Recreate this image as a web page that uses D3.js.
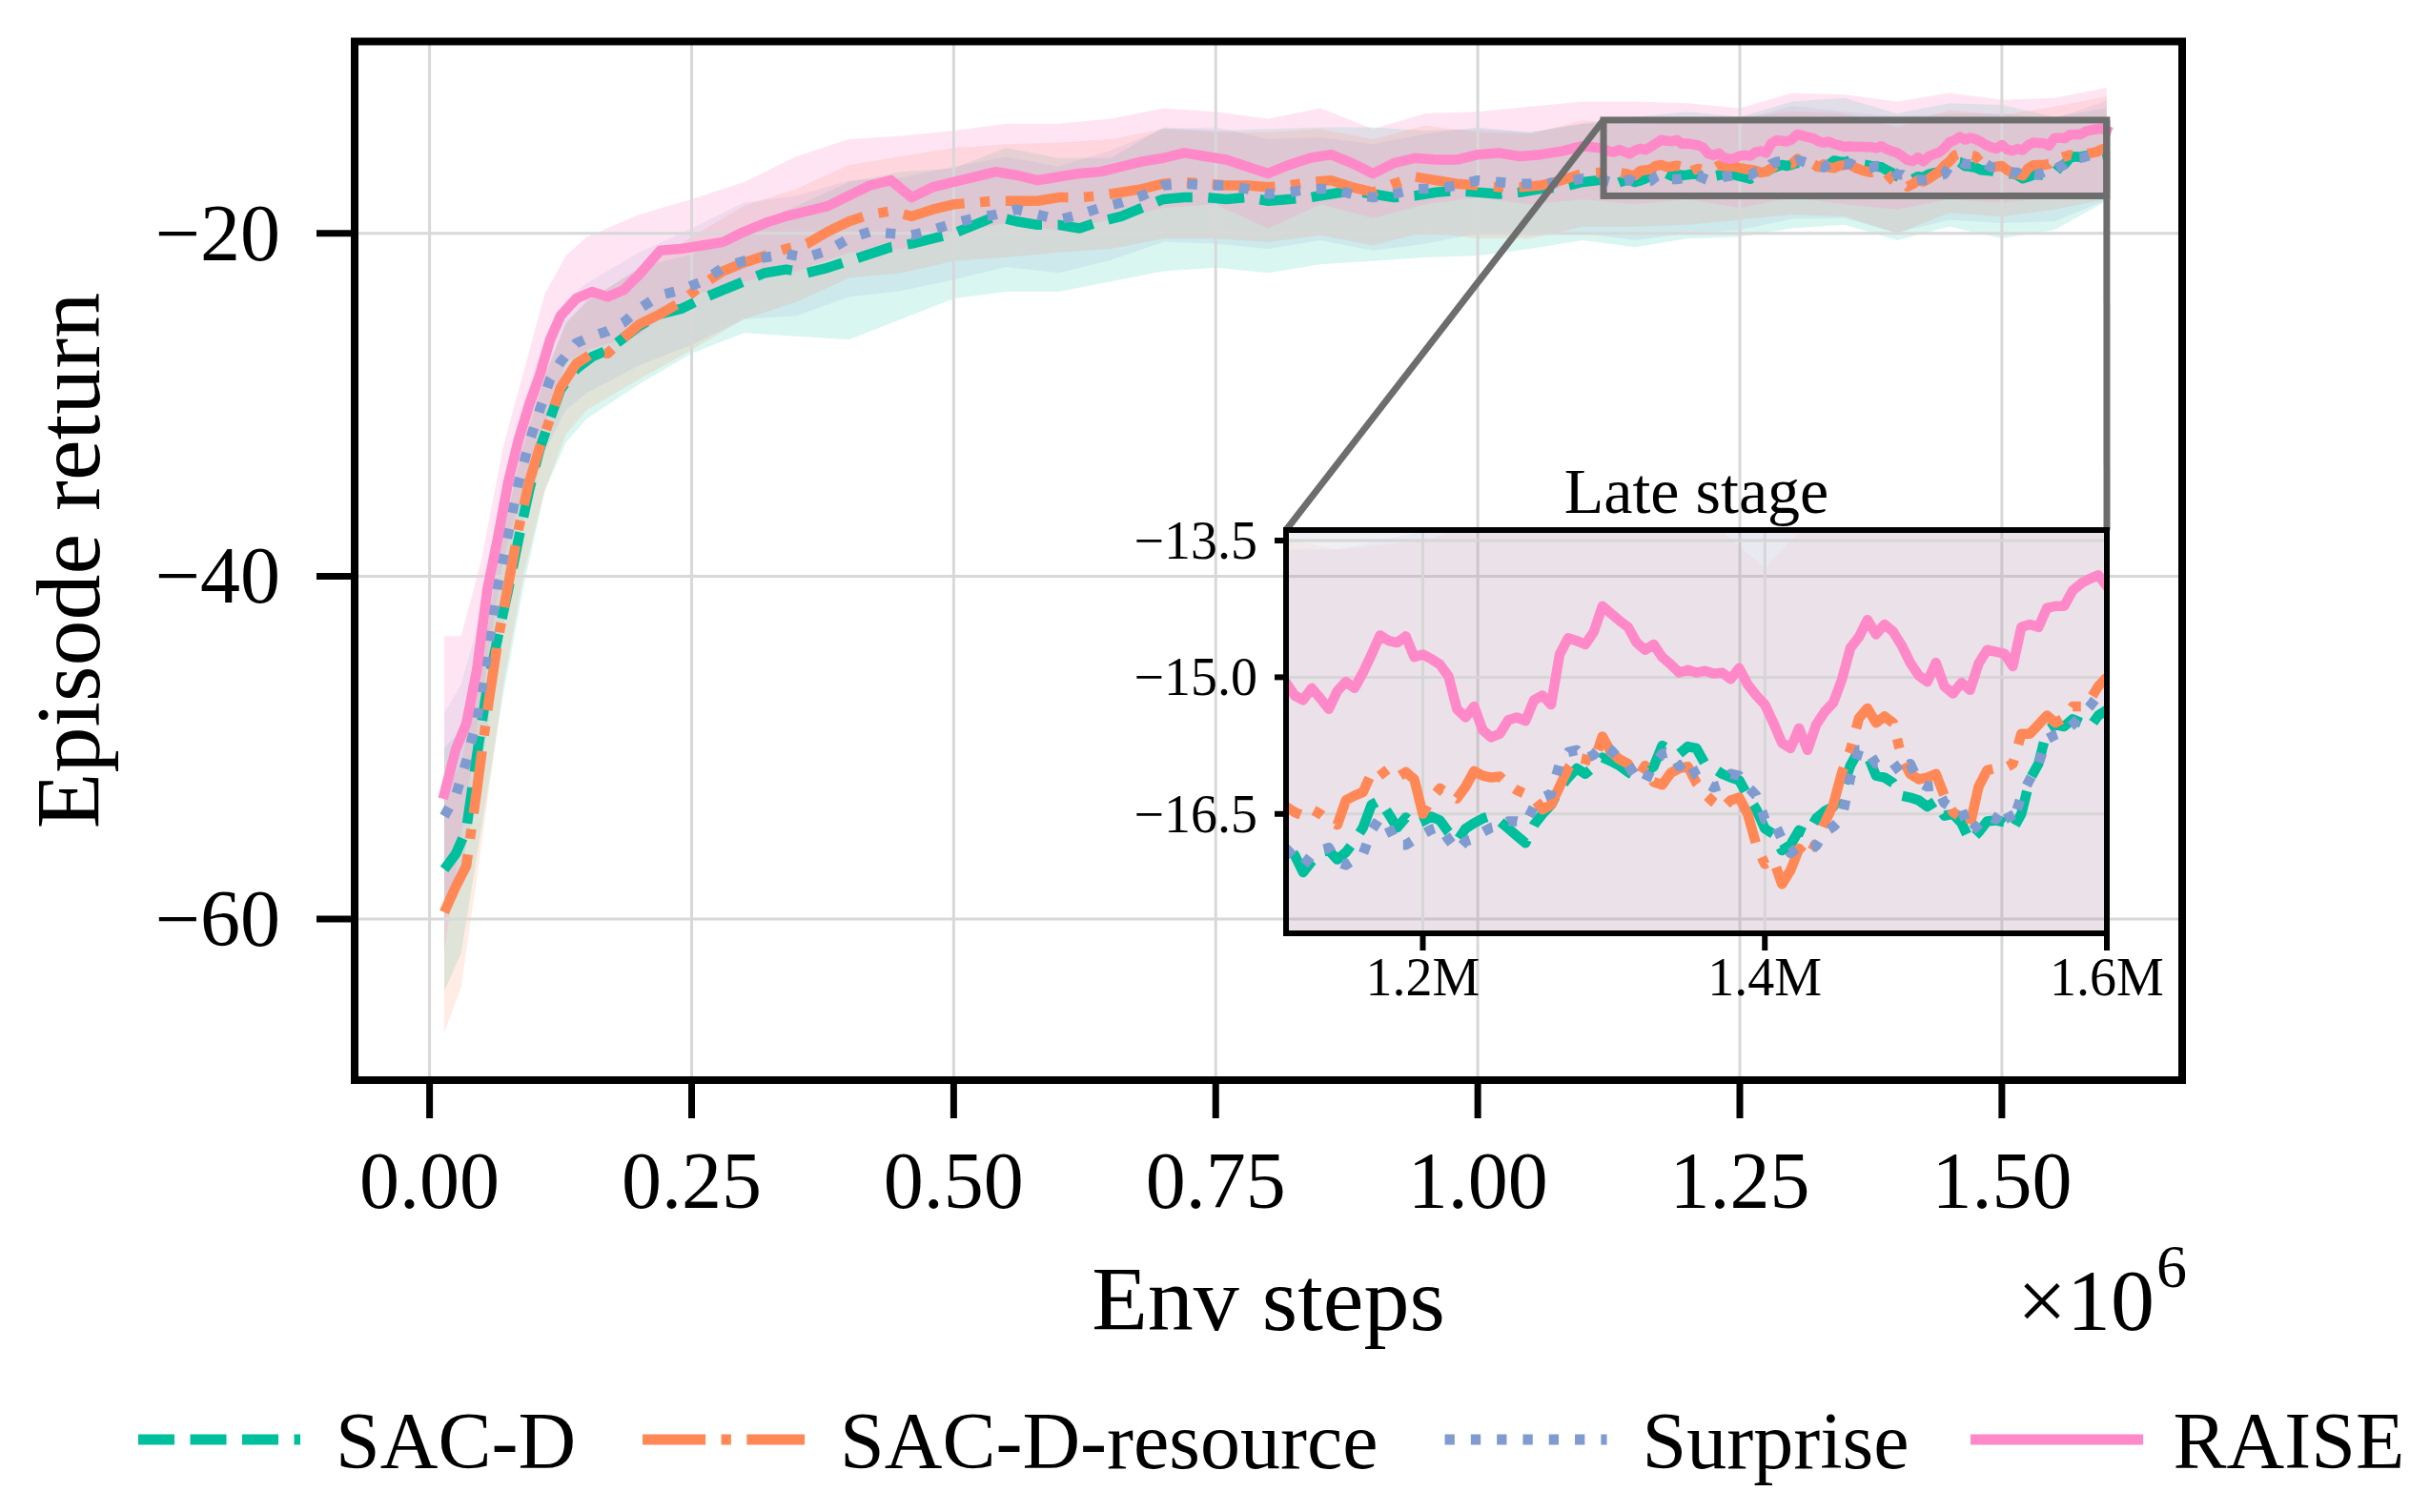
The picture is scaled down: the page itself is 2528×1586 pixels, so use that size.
<!DOCTYPE html>
<html><head><meta charset="utf-8">
<script src="https://cdn.jsdelivr.net/npm/d3@7"></script>
<style>body{margin:0;background:#fff}svg{display:block}</style>
</head><body><svg id="chart" width="2528" height="1586"></svg>
<script>
// ---------- DATA (x in millions of env steps) ----------
const steps = [0.014,0.025,0.035,0.045,0.055,0.065,0.075,0.085,0.095,0.105,0.115,0.125,0.14,0.155,0.17,0.185,0.2,
0.22,0.24,0.26,0.28,0.30,0.32,0.34,0.36,0.38,0.40,0.42,0.44,0.46,0.48,0.50,0.52,0.54,0.56,0.58,0.60,0.62,0.64,0.66,0.68,0.70,0.72,0.74,0.76,0.78,0.80,0.82,0.84,0.86,0.88,0.90,0.92,0.94,0.96,0.98,1.00,1.02,1.04,1.06,1.08,1.10,
1.115,1.12,1.125,1.13,1.135,1.14,1.145,1.15,1.155,1.16,
1.165,1.17,1.175,1.18,1.185,1.19,1.195,1.2,1.205,1.21,
1.215,1.22,1.225,1.23,1.235,1.24,1.245,1.25,1.255,1.26,
1.265,1.27,1.275,1.28,1.285,1.29,1.295,1.3,1.305,1.31,
1.315,1.32,1.325,1.33,1.335,1.34,1.345,1.35,1.355,1.36,
1.365,1.37,1.375,1.38,1.385,1.39,1.395,1.4,1.405,1.41,
1.415,1.42,1.425,1.43,1.435,1.44,1.445,1.45,1.455,1.46,
1.465,1.47,1.475,1.48,1.485,1.49,1.495,1.5,1.505,1.51,
1.515,1.52,1.525,1.53,1.535,1.54,1.545,1.55,1.555,1.56,
1.565,1.57,1.575,1.58,1.585,1.59,1.595,1.6];

const sacD = [-57.1,-56.2,-54.8,-50.5,-46.5,-43.6,-40.8,-37.8,-35.0,-32.6,-30.8,-29.1,-27.9,-27.2,-26.8,-26.1,-25.4,
-24.7,-24.4,-23.8,-23.3,-22.8,-22.3,-22.1,-22.3,-22.0,-21.6,-21.2,-20.8,-20.6,-20.3,-20.0,-19.5,-19.0,-19.3,-19.5,-19.5,-19.7,-19.3,-19.0,-18.5,-18.0,-17.9,-17.9,-18.0,-17.9,-18.1,-18.0,-17.9,-17.7,-17.5,-17.7,-17.9,-17.8,-17.6,-17.5,-17.6,-17.7,-17.6,-17.4,-17.3,-17.0,
-16.9,-16.85,-16.95,-17.14,-17.02,-16.92,-16.9,-17.0,-16.92,-16.8,
-16.65,-16.4,-16.35,-16.5,-16.65,-16.54,-16.62,-16.58,-16.53,-16.57,
-16.7,-16.8,-16.66,-16.6,-16.55,-16.52,-16.58,-16.66,-16.74,-16.82,
-16.62,-16.5,-16.4,-16.22,-16.1,-16.0,-16.06,-15.98,-15.88,-15.92,
-15.97,-16.04,-16.1,-16.04,-15.98,-15.75,-15.8,-15.84,-15.76,-15.78,
-15.95,-16.0,-16.06,-16.1,-16.13,-16.3,-16.45,-16.66,-16.72,-16.9,
-16.84,-16.68,-16.72,-16.55,-16.47,-16.42,-16.25,-15.97,-15.8,-15.85,
-16.08,-16.1,-16.16,-16.3,-16.32,-16.35,-16.42,-16.36,-16.52,-16.5,
-16.6,-16.8,-16.7,-16.58,-16.57,-16.59,-16.67,-16.5,-16.12,-15.95,
-15.58,-15.52,-15.54,-15.46,-15.5,-15.55,-15.42,-15.36];

const sacDResource = [-59.6,-58.1,-56.9,-52.5,-47.9,-43.8,-40.5,-37.2,-34.5,-32.5,-30.8,-29.0,-27.6,-27.0,-27.0,-26.1,-25.3,
-24.7,-24.0,-23.0,-22.2,-21.7,-21.3,-20.9,-20.6,-19.9,-19.3,-18.9,-18.7,-19.0,-18.6,-18.3,-18.2,-18.1,-18.1,-18.1,-17.9,-17.9,-17.8,-17.6,-17.4,-17.1,-17.0,-17.1,-17.2,-17.2,-17.3,-17.2,-17.0,-16.9,-17.3,-17.6,-17.1,-16.7,-16.9,-17.1,-17.2,-17.3,-17.3,-17.2,-16.9,-16.5,
-16.45,-16.42,-16.48,-16.52,-16.45,-16.5,-16.58,-16.62,-16.35,-16.3,
-16.26,-16.05,-16.0,-16.12,-16.1,-16.04,-16.12,-16.5,-16.33,-16.22,
-16.28,-16.33,-16.2,-16.03,-16.08,-16.1,-16.09,-16.18,-16.24,-16.28,
-16.33,-16.45,-16.4,-16.2,-16.0,-15.88,-15.9,-15.93,-15.65,-15.82,
-15.9,-15.95,-16.12,-15.97,-16.15,-16.18,-16.05,-16.0,-15.98,-16.16,
-16.28,-16.37,-16.44,-16.35,-16.32,-16.5,-16.84,-17.05,-17.0,-17.27,
-17.12,-16.88,-16.98,-16.82,-16.6,-16.4,-16.05,-15.8,-15.45,-15.34,
-15.5,-15.43,-15.5,-15.88,-16.06,-16.12,-16.1,-16.06,-16.3,-16.48,
-16.54,-16.62,-16.2,-16.02,-16.0,-16.0,-15.95,-15.62,-15.62,-15.52,
-15.42,-15.5,-15.45,-15.32,-15.32,-15.25,-15.1,-15.0];

const surprise = [-54.0,-52.8,-50.8,-48.4,-44.5,-40.5,-37.5,-34.5,-32.2,-30.3,-28.5,-27.5,-26.4,-26.0,-25.7,-25.2,-24.4,
-23.6,-23.3,-22.8,-22.0,-21.6,-21.4,-21.2,-21.4,-21.0,-20.3,-19.9,-20.0,-20.1,-19.8,-19.4,-19.1,-18.9,-18.6,-18.9,-19.2,-18.9,-18.5,-18.2,-17.8,-17.2,-17.1,-17.2,-17.2,-17.4,-17.7,-17.6,-17.4,-17.4,-17.7,-17.9,-17.7,-17.4,-17.4,-17.2,-16.9,-17.0,-17.1,-17.1,-17.0,-16.8,
-16.9,-16.88,-16.98,-17.07,-16.95,-16.9,-16.87,-17.03,-17.06,-17.0,
-16.94,-16.68,-16.54,-16.64,-16.84,-16.84,-16.78,-16.72,-16.67,-16.64,
-16.78,-16.9,-16.8,-16.77,-16.7,-16.65,-16.63,-16.58,-16.58,-16.6,
-16.42,-16.32,-16.28,-15.95,-15.82,-15.8,-15.9,-15.85,-15.74,-15.8,
-15.9,-15.96,-16.1,-16.15,-15.95,-15.84,-15.82,-15.98,-15.9,-16.08,
-16.16,-16.21,-16.18,-16.06,-16.08,-16.2,-16.3,-16.56,-16.57,-16.78,
-16.93,-16.86,-16.88,-16.85,-16.7,-16.64,-16.55,-16.1,-15.8,-15.8,
-15.95,-15.96,-15.94,-16.06,-15.95,-16.15,-16.2,-16.19,-16.38,-16.44,
-16.45,-16.7,-16.62,-16.52,-16.56,-16.42,-16.6,-16.3,-16.12,-15.95,
-15.68,-15.63,-15.6,-15.52,-15.42,-15.32,-15.2,-15.15];

const raise = [-52.7,-50.1,-48.6,-45.5,-40.8,-37.8,-34.5,-32.0,-30.0,-28.3,-26.2,-24.8,-23.8,-23.4,-23.7,-23.3,-22.4,
-21.0,-20.9,-20.7,-20.5,-19.9,-19.4,-19.0,-18.7,-18.4,-17.8,-17.2,-16.9,-17.9,-17.3,-17.0,-16.7,-16.4,-16.6,-16.9,-16.7,-16.5,-16.4,-16.1,-15.8,-15.6,-15.3,-15.5,-15.7,-16.1,-16.5,-16.0,-15.6,-15.4,-15.9,-16.5,-15.9,-15.6,-15.7,-15.7,-15.4,-15.3,-15.5,-15.4,-15.2,-14.9,
-15.0,-15.06,-15.2,-15.25,-15.12,-15.23,-15.35,-15.15,-15.05,-15.12,
-14.95,-14.75,-14.54,-14.6,-14.62,-14.55,-14.78,-14.75,-14.8,-14.86,
-14.99,-15.35,-15.44,-15.32,-15.58,-15.66,-15.62,-15.47,-15.44,-15.48,
-15.25,-15.2,-15.3,-14.75,-14.57,-14.6,-14.64,-14.5,-14.22,-14.3,
-14.38,-14.45,-14.62,-14.7,-14.64,-14.78,-14.86,-14.95,-14.92,-14.95,
-14.93,-14.96,-14.95,-15.02,-14.9,-15.08,-15.2,-15.3,-15.5,-15.72,
-15.78,-15.56,-15.8,-15.52,-15.38,-15.28,-15.03,-14.68,-14.56,-14.37,
-14.53,-14.42,-14.5,-14.65,-14.84,-14.98,-15.05,-14.84,-15.1,-15.18,
-15.06,-15.14,-14.85,-14.7,-14.72,-14.74,-14.88,-14.45,-14.42,-14.45,
-14.24,-14.22,-14.22,-14.05,-13.97,-13.92,-13.88,-14.0];

// shaded spread (lower / upper edge) of each method, read on a coarser grid
const bandSteps = [0.014,0.03,0.05,0.07,0.09,0.11,0.13,0.15,0.2,0.25,0.3,0.35,0.4,0.45,0.5,0.55,0.6,0.65,0.7,0.75,0.8,0.85,0.9,0.95,1.0,1.05,1.1,1.15,1.2,1.25,1.3,1.35,1.4,1.45,1.5,1.55,1.6];
const sacDLo = [-64.2,-62.0,-54.5,-47.0,-40.5,-35.0,-32.2,-30.8,-28.8,-27.0,-25.8,-26.0,-26.2,-25.0,-23.8,-23.4,-23.4,-22.8,-22.2,-22.0,-22.3,-21.8,-21.6,-21.4,-21.3,-20.9,-20.4,-20.8,-20.3,-20.2,-19.7,-19.5,-20.4,-19.6,-20.3,-19.8,-18.1];
const sacDHi = [-50.0,-49.0,-42.5,-37.4,-32.3,-28.4,-25.2,-24.0,-22.0,-21.2,-19.8,-18.4,-17.0,-16.4,-16.2,-15.0,-15.6,-15.6,-13.8,-14.0,-13.9,-13.8,-13.8,-14.0,-13.9,-14.1,-13.6,-13.2,-12.9,-13.2,-12.3,-12.1,-13.0,-12.4,-12.5,-13.2,-12.7];
const resLo = [-66.6,-64.0,-55.5,-46.5,-39.8,-35.0,-31.7,-30.3,-28.5,-26.8,-25.0,-24.0,-22.6,-22.3,-21.6,-21.4,-21.1,-20.9,-20.3,-20.3,-20.5,-20.1,-20.7,-19.9,-20.3,-20.3,-19.6,-19.6,-19.5,-19.2,-18.9,-19.0,-20.0,-18.8,-19.0,-18.6,-18.0];
const resHi = [-52.6,-51.0,-44.9,-37.7,-31.8,-28.2,-25.3,-23.9,-22.1,-20.2,-18.4,-17.4,-16.0,-15.5,-15.0,-14.8,-14.7,-14.5,-13.9,-14.1,-14.1,-13.9,-14.5,-13.7,-14.1,-14.2,-13.4,-13.6,-13.5,-13.2,-12.9,-13.0,-13.8,-12.8,-13.1,-12.6,-12.0];
const surLo = [-60.0,-57.3,-51.0,-43.0,-36.8,-32.7,-30.3,-29.3,-27.7,-26.5,-25.0,-24.8,-23.7,-23.35,-22.7,-21.95,-22.3,-21.55,-20.5,-20.6,-20.9,-20.4,-21.0,-20.6,-20.0,-20.1,-20.0,-20.4,-20.0,-19.8,-19.15,-19.1,-19.96,-19.2,-19.4,-19.3,-18.05];
const surHi = [-48.0,-46.3,-42.0,-35.0,-29.8,-26.1,-23.9,-22.9,-21.1,-19.7,-18.2,-17.8,-16.9,-16.75,-16.1,-15.55,-16.1,-15.15,-13.9,-13.8,-14.5,-14.4,-14.8,-14.2,-13.8,-14.1,-13.6,-13.6,-13.4,-13.4,-12.55,-12.9,-13.16,-13.0,-13.0,-13.3,-12.25];
const raiseLo = [-61.9,-55.1,-46.9,-39.1,-34.6,-31.1,-27.5,-26.8,-25.9,-23.6,-22.8,-22.2,-21.1,-20.9,-20.0,-19.4,-19.8,-19.2,-18.5,-18.3,-19.7,-18.3,-19.1,-18.3,-17.9,-18.3,-18.0,-18.3,-18.0,-18.5,-17.9,-18.3,-18.6,-18.0,-18.2,-17.9,-17.9];
const raiseHi = [-43.5,-43.5,-38.9,-32.5,-28.0,-23.5,-21.3,-20.2,-18.9,-18.0,-17.0,-15.5,-14.5,-14.3,-14.0,-13.6,-13.6,-13.3,-12.7,-12.9,-13.3,-12.7,-13.9,-13.0,-12.9,-12.6,-12.3,-12.3,-12.4,-12.7,-11.8,-11.9,-12.3,-11.8,-12.2,-12.1,-11.5];

const seriesNames = ["SAC-D","SAC-D-resource","Surprise","RAISE"];
const xTicks = [0,0.25,0.5,0.75,1.0,1.25,1.5];
const xTickLabels = ["0.00","0.25","0.50","0.75","1.00","1.25","1.50"];
const yTicks = [-20,-40,-60];
const yTickLabels = ["\u221220","\u221240","\u221260"];
const insetXTicks = [1.2,1.4,1.6];
const insetXTickLabels = ["1.2M","1.4M","1.6M"];
const insetYTicks = [-13.5,-15.0,-16.5];
const insetYTickLabels = ["\u221213.5","\u221215.0","\u221216.5"];
const insetRange = {x:[1.12,1.6], y:[-17.81,-13.385]};

// ---------- STYLE ----------
const FONT = '"Liberation Serif","Times New Roman",Times,serif';
const colors = ["#00bf9c","#ff8856","#7f9bcf","#ff88c8"];
const bandWeight = [0.85,0.95,0.8,1.3];
const dashes = ["38 16.5","66 16.5 10.3 16.5","10.3 17",null];
const LW = 10.5;

const svg = d3.select("#chart");
const series = seriesNames.map((n,i)=>({
  name:n, color:colors[i], dash:dashes[i], w:bandWeight[i],
  vals:[sacD,sacDResource,surprise,raise][i],
  lo:[sacDLo,resLo,surLo,raiseLo][i],
  hi:[sacDHi,resHi,surHi,raiseHi][i]
}));

// ---------- MAIN AXES ----------
const M = {left:372, right:2289, top:43.5, bottom:1133};
const x = d3.scaleLinear().domain([-0.0715,1.672]).range([M.left,M.right]);
const y = d3.scaleLinear().domain([-69.4,-8.8]).range([M.bottom,M.top]);

const defs = svg.append("defs");
defs.append("clipPath").attr("id","mainClip").append("rect")
  .attr("x",M.left).attr("y",M.top).attr("width",M.right-M.left).attr("height",M.bottom-M.top);

function drawBands(g, xs, ys, clipId, op) {
  const area = d3.area().x(d=>xs(d[0])).y0(d=>ys(d[1])).y1(d=>ys(d[2]));
  const cg = g.append("g").attr("clip-path",`url(#${clipId})`);
  series.forEach(s=>{
    cg.append("path").datum(bandSteps.map((t,i)=>[t,s.lo[i],s.hi[i]]))
      .attr("d",area).attr("fill",s.color).attr("fill-opacity",op*s.w);
  });
}
function drawLines(g, xs, ys, clipId, lw){
  const line = d3.line().x(d=>xs(d[0])).y(d=>ys(d[1]));
  const cg = g.append("g").attr("clip-path",`url(#${clipId})`);
  series.forEach(s=>{
    cg.append("path").datum(steps.map((t,i)=>[t,s.vals[i]]))
      .attr("d",line).attr("fill","none").attr("stroke",s.color)
      .attr("stroke-width",lw).attr("stroke-linejoin","round")
      .attr("stroke-linecap", s.dash ? "butt" : "square")
      .attr("stroke-dasharray", s.dash);
  });
}

const main = svg.append("g");
drawBands(main, x, y, "mainClip", 0.17);
const grid = main.append("g").attr("stroke","#d8d8d8").attr("stroke-width",3);
xTicks.forEach(t=>grid.append("line").attr("x1",x(t)).attr("x2",x(t)).attr("y1",M.top).attr("y2",M.bottom));
yTicks.forEach(t=>grid.append("line").attr("y1",y(t)).attr("y2",y(t)).attr("x1",M.left).attr("x2",M.right));
drawLines(main, x, y, "mainClip", LW);

// zoom rectangle
const GREY = "#6d6d6d";
main.append("rect").attr("x",x(insetRange.x[0])).attr("y",y(insetRange.y[1]))
  .attr("width",x(insetRange.x[1])-x(insetRange.x[0])).attr("height",y(insetRange.y[0])-y(insetRange.y[1]))
  .attr("fill","none").attr("stroke",GREY).attr("stroke-width",7);

// frame
main.append("rect").attr("x",M.left).attr("y",M.top).attr("width",M.right-M.left).attr("height",M.bottom-M.top)
  .attr("fill","none").attr("stroke","#000").attr("stroke-width",8);
// ticks
const tk = main.append("g").attr("stroke","#000").attr("stroke-width",7);
xTicks.forEach(t=>tk.append("line").attr("x1",x(t)).attr("x2",x(t)).attr("y1",M.bottom).attr("y2",M.bottom+40));
yTicks.forEach(t=>tk.append("line").attr("y1",y(t)).attr("y2",y(t)).attr("x1",M.left-40).attr("x2",M.left));
xTicks.forEach((t,i)=>main.append("text").attr("x",x(t)).attr("y",1267).attr("text-anchor","middle")
  .attr("font-family",FONT).attr("font-size",84).text(xTickLabels[i]));
yTicks.forEach((t,i)=>main.append("text").attr("x",294).attr("y",y(t)+28).attr("text-anchor","end")
  .attr("font-family",FONT).attr("font-size",84).text(yTickLabels[i]));

// axis labels
svg.append("text").attr("transform","translate(104,588) rotate(-90)").attr("text-anchor","middle")
  .attr("font-family",FONT).attr("font-size",96).text("Episode return");
svg.append("text").attr("x",(M.left+M.right)/2).attr("y",1395).attr("text-anchor","middle")
  .attr("font-family",FONT).attr("font-size",96).text("Env steps");
svg.append("text").attr("x",2260).attr("y",1395).attr("text-anchor","end")
  .attr("font-family",FONT).attr("font-size",92).text("\u00d710");
svg.append("text").attr("x",2262).attr("y",1350).attr("text-anchor","start")
  .attr("font-family",FONT).attr("font-size",64).text("6");

// ---------- INSET ----------
const I = {left:1349, right:2210, top:556, bottom:979};
const xi = d3.scaleLinear().domain(insetRange.x).range([I.left,I.right]);
const yi = d3.scaleLinear().domain(insetRange.y).range([I.bottom,I.top]);
defs.append("clipPath").attr("id","insetClip").append("rect")
  .attr("x",I.left).attr("y",I.top).attr("width",I.right-I.left).attr("height",I.bottom-I.top);

// connectors (rectangle corners -> inset corners)
svg.append("line").attr("x1",x(insetRange.x[0])).attr("y1",y(insetRange.y[1])).attr("x2",I.left).attr("y2",I.top)
  .attr("stroke",GREY).attr("stroke-width",7);
svg.append("line").attr("x1",x(insetRange.x[1])).attr("y1",y(insetRange.y[1])).attr("x2",I.right).attr("y2",I.top)
  .attr("stroke",GREY).attr("stroke-width",7);

const inset = svg.append("g");
drawBands(inset, xi, yi, "insetClip", 0.075);
const igrid = inset.append("g").attr("stroke","#d6d6d6").attr("stroke-width",3);
insetXTicks.forEach(t=>igrid.append("line").attr("x1",xi(t)).attr("x2",xi(t)).attr("y1",I.top).attr("y2",I.bottom));
insetYTicks.forEach(t=>igrid.append("line").attr("y1",yi(t)).attr("y2",yi(t)).attr("x1",I.left).attr("x2",I.right));
drawLines(inset, xi, yi, "insetClip", LW);
inset.append("rect").attr("x",I.left).attr("y",I.top).attr("width",I.right-I.left).attr("height",I.bottom-I.top)
  .attr("fill","none").attr("stroke","#000").attr("stroke-width",6);
const itk = inset.append("g").attr("stroke","#000").attr("stroke-width",6);
insetXTicks.forEach(t=>itk.append("line").attr("x1",xi(t)).attr("x2",xi(t)).attr("y1",I.bottom).attr("y2",I.bottom+18));
insetYTicks.forEach(t=>itk.append("line").attr("y1",yi(t)).attr("y2",yi(t)).attr("x1",I.left-12).attr("x2",I.left));
insetXTicks.forEach((t,i)=>inset.append("text").attr("x",xi(t)).attr("y",1044).attr("text-anchor","middle")
  .attr("font-family",FONT).attr("font-size",56).text(insetXTickLabels[i]));
insetYTicks.forEach((t,i)=>inset.append("text").attr("x",1319).attr("y",yi(t)+19).attr("text-anchor","end")
  .attr("font-family",FONT).attr("font-size",56).text(insetYTickLabels[i]));
inset.append("text").attr("x",(I.left+I.right)/2).attr("y",538).attr("text-anchor","middle")
  .attr("font-family",FONT).attr("font-size",68).text("Late stage");

// ---------- LEGEND ----------
const leg = svg.append("g");
let lx = 145;
series.forEach(s=>{
  leg.append("line").attr("x1",lx).attr("x2",lx+170).attr("y1",1510).attr("y2",1510)
    .attr("stroke",s.color).attr("stroke-width",LW+0.5)
    .attr("stroke-linecap", s.dash ? "butt" : "square")
    .attr("stroke-dasharray",s.dash);
  const t = leg.append("text").attr("x",lx+207).attr("y",1540).attr("font-family",FONT)
    .attr("font-size",84).text(s.name);
  lx = lx + 207 + t.node().getComputedTextLength() + 70;
});
</script></body></html>
